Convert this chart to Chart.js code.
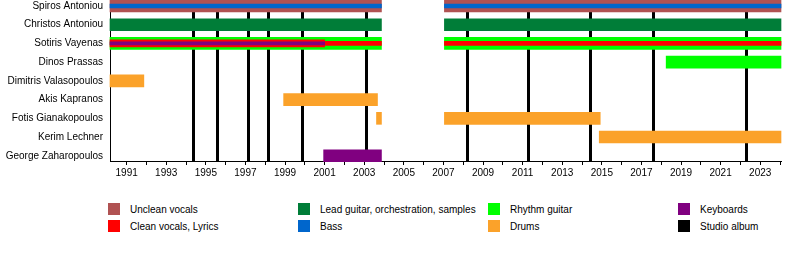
<!DOCTYPE html>
<html>
<head>
<meta charset="utf-8">
<script src="https://cdn.jsdelivr.net/npm/chart.js@4/dist/chart.umd.min.js"></script>
<style>
  body { margin: 0; background: #fff; font-family: "Liberation Sans", Arial, sans-serif; }
  #wrap { position: relative; width: 800px; height: 280px; }
  #plot { position: absolute; left: 0; top: 0; width: 800px; height: 185px; }
  .item { position: absolute; font-size: 10px; color: #000; line-height: 12px; white-space: nowrap; }
  .item span { position: absolute; left: 0; top: 0; width: 12px; height: 12px; }
  .item b { position: absolute; left: 22px; top: 1px; font-weight: normal; }
</style>
</head>
<body>
<div id="wrap">
  <div id="plot"><canvas id="chart"></canvas></div>
  <div id="legend"></div>
</div>
<script>
const members = ['Spiros Antoniou', 'Christos Antoniou', 'Sotiris Vayenas', 'Dinos Prassas',
  'Dimitris Valasopoulos', 'Akis Kapranos', 'Fotis Gianakopoulos', 'Kerim Lechner', 'George Zaharopoulos'];

const startYear = 1990.16;
const endYear = 2024.05;

// [member, from, to]
const uncleanVocals = [['Spiros Antoniou', 1990.16, 2003.87], ['Spiros Antoniou', 2007.05, 2024.05]];
const bass = [['Spiros Antoniou', 1990.16, 2003.87], ['Spiros Antoniou', 2007.05, 2024.05]];
const leadGuitar = [['Christos Antoniou', 1990.16, 2003.87], ['Christos Antoniou', 2007.05, 2024.05]];
const rhythmGuitar = [['Sotiris Vayenas', 1990.16, 2003.87], ['Sotiris Vayenas', 2007.05, 2024.05],
  ['Dinos Prassas', 2018.25, 2024.05]];
const cleanVocalsEarly = [['Sotiris Vayenas', 1990.16, 2001.0]];
const cleanVocalsLate = [['Sotiris Vayenas', 2001.0, 2003.87], ['Sotiris Vayenas', 2007.05, 2024.05]];
const keyboardsSide = [['Sotiris Vayenas', 1990.16, 2001.0]];
const keyboards = [['George Zaharopoulos', 2000.95, 2003.87]];
const drums = [['Dimitris Valasopoulos', 1990.16, 1991.87], ['Akis Kapranos', 1998.93, 2003.67],
  ['Fotis Gianakopoulos', 2003.62, 2003.87], ['Fotis Gianakopoulos', 2007.05, 2014.92],
  ['Kerim Lechner', 2014.87, 2024.05]];

const albumYears = [1994.36, 1995.54, 1997.13, 1998.14, 1999.86, 2003.10,
  2008.18, 2011.25, 2014.38, 2017.61, 2022.30];

const colors = {
  unclean: '#b05252', clean: '#ff0000', lead: '#007d38', bass: '#0066cc',
  rhythm: '#00ff00', drums: '#fba22a', keys: '#800080', album: '#000000'
};

function layer(rows, color, thickness, order) {
  return {
    data: rows.map(r => ({ y: members.indexOf(r[0]), x: [r[1], r[2]] })),
    backgroundColor: color,
    barThickness: thickness,
    grouped: false,
    borderWidth: 0,
    clip: false,
    order: order
  };
}

const albumLines = {
  id: 'albumLines',
  beforeDatasetsDraw(chart) {
    const { ctx, chartArea, scales } = chart;
    ctx.save();
    ctx.strokeStyle = colors.album;
    ctx.lineWidth = 3;
    albumYears.forEach(yr => {
      const px = Math.round(scales.x.getPixelForValue(yr)) + 0.5;
      ctx.beginPath();
      ctx.moveTo(px, chartArea.top);
      ctx.lineTo(px, chartArea.bottom);
      ctx.stroke();
    });
    ctx.restore();
  }
};

Chart.defaults.font.family = '"Liberation Sans", Arial, sans-serif';
Chart.defaults.font.size = 10;
Chart.defaults.color = '#000';

new Chart(document.getElementById('chart'), {
  type: 'bar',
  data: {
    datasets: [
      layer(uncleanVocals, colors.unclean, 12, 3),
      layer(bass, colors.bass, 4, 2),
      layer(leadGuitar, colors.lead, 12, 3),
      layer(rhythmGuitar, colors.rhythm, 12, 3),
      layer(cleanVocalsEarly, colors.clean, 7, 2),
      layer(cleanVocalsLate, colors.clean, 4, 2),
      layer(keyboardsSide, colors.keys, 3, 1),
      layer(keyboards, colors.keys, 12, 3),
      layer(drums, colors.drums, 12, 3)
    ]
  },
  options: {
    indexAxis: 'y',
    responsive: true,
    maintainAspectRatio: false,
    animation: false,
    layout: { padding: { top: 0, right: 19, bottom: 0, left: 0 } },
    plugins: { legend: { display: false }, tooltip: { enabled: false } },
    scales: {
      x: {
        type: 'linear',
        min: startYear,
        max: endYear,
        afterBuildTicks: s => {
          const t = [];
          for (let y = 1991; y <= 2024; y++) t.push({ value: y });
          s.ticks = t;
        },
        afterFit: s => { s.height = 24; },
        ticks: {
          autoSkip: false, maxRotation: 0, padding: 2,
          callback: v => (v % 2 === 1 ? String(v) : '')
        },
        grid: { drawOnChartArea: false, drawTicks: true, tickLength: 4, color: '#000' },
        border: { color: '#000', width: 1 }
      },
      y: {
        type: 'linear',
        reverse: true,
        offset: false,
        min: -0.32,
        max: 8.28,
        afterBuildTicks: s => { s.ticks = members.map((_, i) => ({ value: i })); },
        afterFit: s => { s.width = 110; s.paddingTop = 0; s.paddingBottom = 0; },
        ticks: { autoSkip: false, padding: 7, callback: v => members[v] },
        grid: { offset: false, drawOnChartArea: false, drawTicks: false },
        border: { color: '#000', width: 1 }
      }
    }
  },
  plugins: [albumLines]
});

const legendItems = [
  ['Unclean vocals', colors.unclean], ['Clean vocals, Lyrics', colors.clean],
  ['Lead guitar, orchestration, samples', colors.lead], ['Bass', colors.bass],
  ['Rhythm guitar', colors.rhythm], ['Drums', colors.drums],
  ['Keyboards', colors.keys], ['Studio album', colors.album]
];
const colX = [108, 298, 488, 678];
const rowY = [203, 220];
const legend = document.getElementById('legend');
legendItems.forEach((it, i) => {
  const d = document.createElement('div');
  d.className = 'item';
  d.style.left = colX[Math.floor(i / 2)] + 'px';
  d.style.top = rowY[i % 2] + 'px';
  d.innerHTML = `<span style="background:${it[1]}"></span><b>${it[0]}</b>`;
  legend.appendChild(d);
});
</script>
</body>
</html>
